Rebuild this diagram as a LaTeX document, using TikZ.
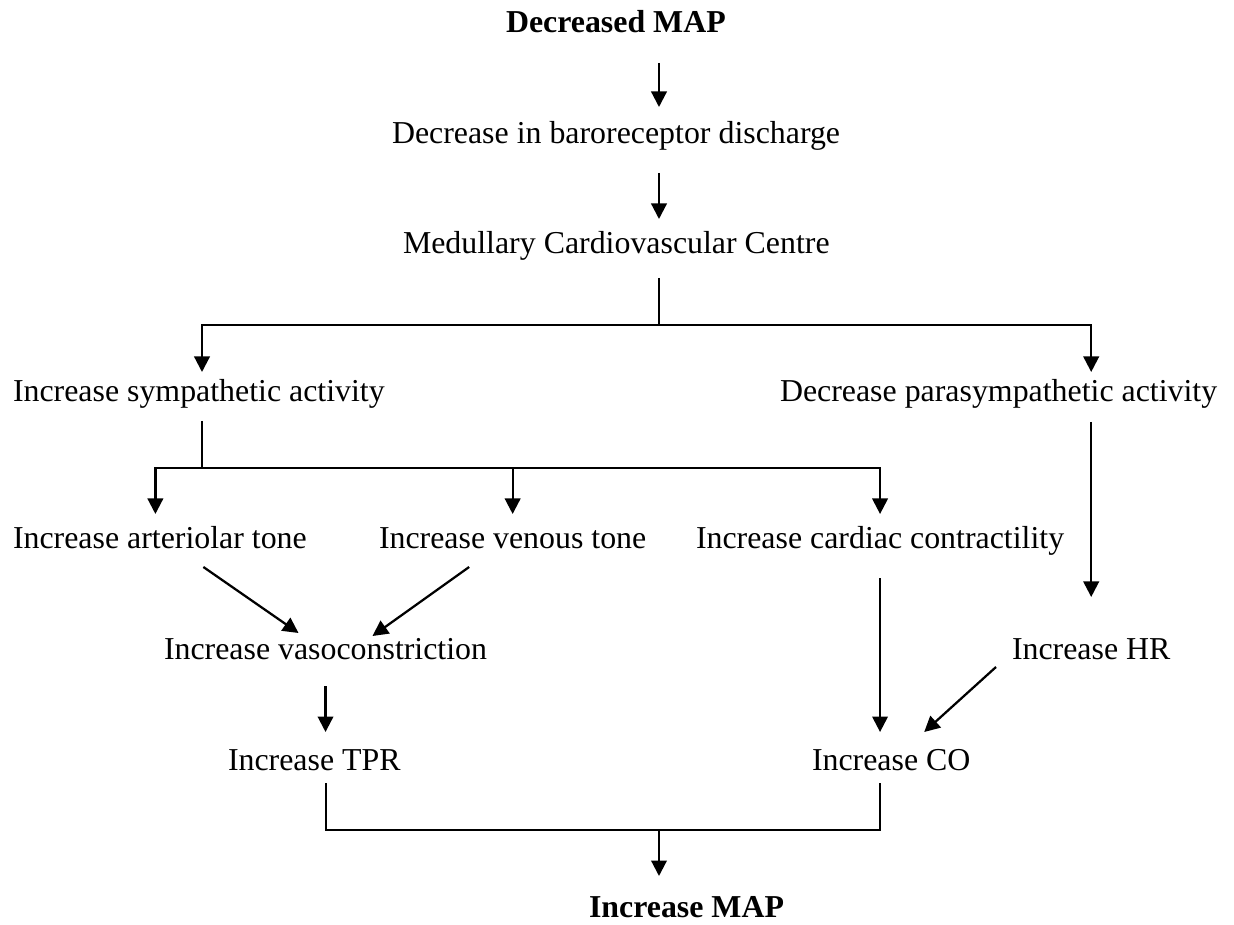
\documentclass[tikz,border=0pt]{standalone}
\usepackage{fontspec}
\setmainfont{Liberation Serif}
\usetikzlibrary{arrows.meta}
\begin{document}
\begin{tikzpicture}[x=0.4pt,y=-0.4pt,line width=0.8pt,
  txt/.style={anchor=base west,inner sep=0pt,text height=8.8pt,text depth=2.8pt,font=\fontsize{12.75}{15}\selectfont},
  bold/.style={txt,font=\fontsize{12.75}{15}\selectfont\bfseries},
  arr/.style={line width=0.9pt,-{Triangle[length=6.2pt,width=6.2pt]}}]
\useasboundingbox (0,0) rectangle (1234,925);
\node[bold] (dmap) at (505,33) {Decreased MAP};
\node[txt] (baro) at (391,144) {Decrease in baroreceptor discharge};
\node[txt] (mcc) at (402,254) {Medullary Cardiovascular Centre};
\node[txt] (sym) at (12,402) {Increase sympathetic activity};
\node[txt] (para) at (779,402) {Decrease parasympathetic activity};
\node[txt] (art) at (12,548) {Increase arteriolar tone};
\node[txt] (ven) at (378,548) {Increase venous tone};
\node[txt] (con) at (695,548) {Increase cardiac contractility};
\node[txt] (vaso) at (163,659) {Increase vasoconstriction};
\node[txt] (hr) at (1011,659) {Increase HR};
\node[txt] (tpr) at (227,770) {Increase TPR};
\node[txt] (co) at (811,770) {Increase CO};
\node[bold] (imap) at (588,917) {Increase MAP};
\coordinate (f1) at (659,325);
\coordinate (f2) at (202,468);
\coordinate (f3) at (659,830);
\draw[arr,shorten <=8.8pt,shorten >=5.6pt] (dmap.south -| f1) -- (baro.north -| f1);
\draw[arr,shorten <=8.4pt,shorten >=4.8pt] (baro.south -| f1) -- (mcc.north -| f1);
\draw[shorten <=6.4pt] (mcc.south -| f1) -- (f1);
\draw[arr,shorten >=2.8pt] (f1) -| (sym.north -| f2);
\draw[arr,shorten >=2.8pt] (f1) -| (hr.north |- para.north);
\draw[shorten <=4.4pt] (sym.south -| f2) -- (f2);
\draw[arr,shorten >=4.4pt] (f2) -| ([xshift=-1.8pt]art.north);
\draw[arr,shorten >=4.4pt] (ven.north |- f2) -- (ven.north);
\draw[arr,shorten >=4.4pt] (f2) -| (con.north);
\draw[arr] ([xshift=17.4pt,yshift=-4.4pt]art.south) -- ([xshift=-10.8pt,yshift=1.2pt]vaso.north);
\draw[arr] ([xshift=-17.4pt,yshift=-4.4pt]ven.south) -- ([xshift=18.8pt]vaso.north);
\draw[arr,shorten <=4.8pt,shorten >=15.6pt] (hr.north |- para.south) -- (hr.north);
\draw[arr,shorten <=7.6pt,shorten >=6pt] (vaso.south) -- (vaso.south |- tpr.north);
\draw[arr,shorten <=8.8pt,shorten >=6pt] (con.south) -- (con.south |- co.north);
\draw[arr] ([xshift=-6pt]hr.south west) -- ([xshift=13.2pt,yshift=6pt]co.north);
\draw[shorten <=2pt,shorten >=2pt] (tpr.south -| vaso.south) |- (f3) -| (co.south -| con.south);
\draw[arr,shorten >=7.2pt] (f3) -- (f3 |- imap.north);
\end{tikzpicture}
\end{document}
